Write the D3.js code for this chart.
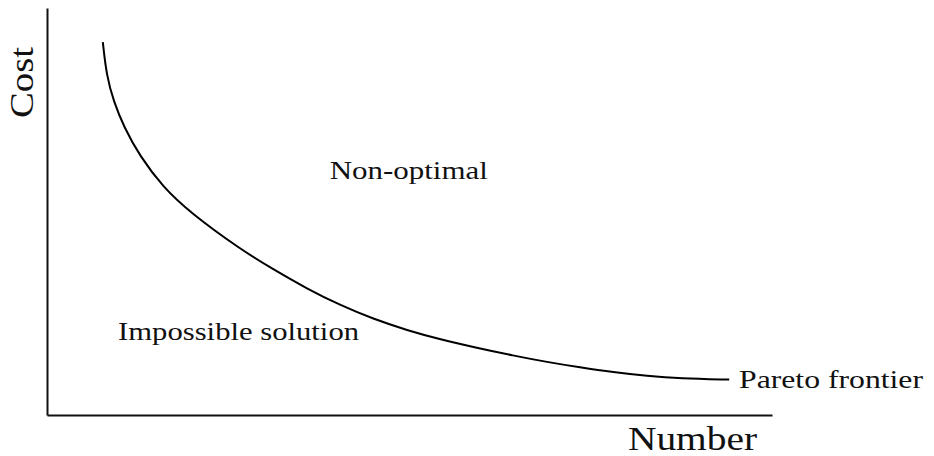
<!DOCTYPE html>
<html>
<head>
<meta charset="utf-8">
<script src="https://cdn.jsdelivr.net/npm/d3@7"></script>
<style>
  html, body { margin: 0; padding: 0; background: #fff; }
  svg { display: block; }
  text { font-family: "Liberation Serif", "DejaVu Serif", serif; fill: #111; }
</style>
</head>
<body>
<svg id="chart" width="934" height="456"></svg>
<script>
// Pareto frontier curve (number vs cost, arbitrary 0-100 units)
const numberValues = [7.7, 8.2, 9.2, 10.6, 12.8, 16.0, 19.7, 26.6, 31.2, 35.9, 40.4, 45.0, 49.7, 54.2, 59.3, 64.3, 69.0, 73.5, 78.1, 82.8, 87.3, 94.1];
const costValues   = [91.6, 83.5, 77.0, 70.8, 63.6, 56.0, 49.8, 40.8, 35.8, 31.0, 27.0, 23.6, 20.8, 18.6, 16.5, 14.6, 13.0, 11.7, 10.5, 9.6, 9.0, 8.7];
const xAxisTitle = "Number";
const yAxisTitle = "Cost";
const curveLabel = "Pareto frontier";
const regionLabels = ["Non-optimal", "Impossible solution"];
const regionPos = [[39, 58], [9.8, 18.5]]; // [number, cost] of label start

const svg = d3.select("#chart");
const x = d3.scaleLinear().domain([0, 100]).range([47, 772]);
const y = d3.scaleLinear().domain([0, 100]).range([415, 8]);

// axes (domain lines only)
svg.append("g").attr("transform", `translate(0,${y(0)})`)
  .call(d3.axisBottom(x).tickValues([]).tickSizeOuter(0))
  .call(g => g.select(".domain").attr("stroke", "#111").attr("stroke-width", 2));
svg.append("g").attr("transform", `translate(${x(0)},0)`)
  .call(d3.axisLeft(y).tickValues([]).tickSizeOuter(0))
  .call(g => g.select(".domain").attr("stroke", "#111").attr("stroke-width", 2));

// curve
const pts = numberValues.map((n, i) => [n, costValues[i]]);
const line = d3.line().x(d => x(d[0])).y(d => y(d[1])).curve(d3.curveBasis);
svg.append("path").datum(pts).attr("d", line)
  .attr("fill", "none").attr("stroke", "#000").attr("stroke-width", 2);

// curve label
svg.append("text").attr("x", 739).attr("y", 388)
  .attr("font-size", 26).attr("textLength", 184).attr("lengthAdjust", "spacingAndGlyphs")
  .text(curveLabel);

// region labels
const regionWidths = [158, 241];
regionLabels.forEach((t, i) => {
  svg.append("text").attr("x", x(regionPos[i][0])).attr("y", y(regionPos[i][1]))
    .attr("font-size", 26).attr("textLength", regionWidths[i]).attr("lengthAdjust", "spacingAndGlyphs")
    .text(t);
});

// axis titles
svg.append("text").attr("x", 628).attr("y", 450)
  .attr("font-size", 33).attr("textLength", 129).attr("lengthAdjust", "spacingAndGlyphs")
  .text(xAxisTitle);
svg.append("text").attr("transform", "translate(33,118) rotate(-90)")
  .attr("font-size", 33).attr("textLength", 71).attr("lengthAdjust", "spacingAndGlyphs")
  .text(yAxisTitle);
</script>
</body>
</html>
